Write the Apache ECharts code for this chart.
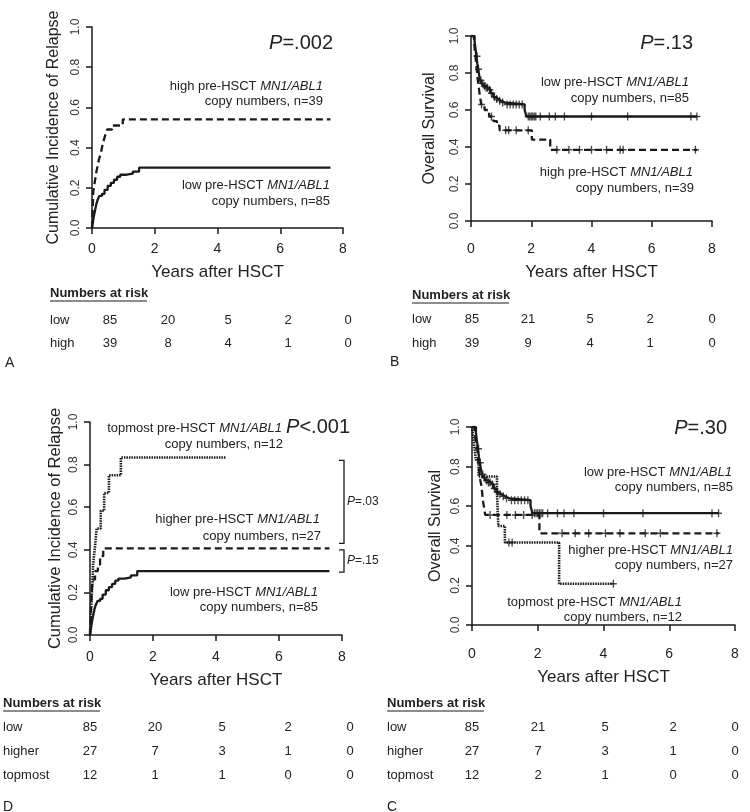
<!DOCTYPE html>
<html><head><meta charset="utf-8">
<script src="https://cdn.jsdelivr.net/npm/echarts@6/dist/echarts.min.js"></script>
<style>html,body{margin:0;padding:0;background:#fff}#c{width:750px;height:812px}</style>
</head><body><div id="c"></div>
<script>
// ---------------- DATA ----------------
const xTicks = [0, 2, 4, 6, 8];
// Cumulative incidence of relapse (step curves: [years, value])
const cirLow = [[0,0],[0.03,0.03],[0.06,0.06],[0.1,0.09],[0.14,0.12],[0.18,0.14],[0.24,0.16],[0.32,0.17],[0.4,0.19],[0.5,0.21],[0.6,0.225],[0.7,0.24],[0.8,0.255],[0.9,0.265],[1.1,0.27],[1.3,0.28],[1.5,0.3],[7.6,0.3]];
const cirHigh = [[0,0],[0.02,0.08],[0.04,0.18],[0.07,0.21],[0.1,0.24],[0.14,0.28],[0.18,0.31],[0.22,0.34],[0.28,0.37],[0.33,0.41],[0.38,0.44],[0.44,0.47],[0.48,0.49],[0.64,0.51],[0.98,0.54],[7.6,0.54]];
const cirHigher = [[0,0],[0.02,0.07],[0.04,0.15],[0.06,0.22],[0.08,0.26],[0.16,0.3],[0.25,0.33],[0.32,0.37],[0.42,0.407],[7.6,0.407]];
const cirTopmost = [[0,0],[0.02,0.083],[0.05,0.167],[0.08,0.25],[0.1,0.333],[0.16,0.417],[0.21,0.5],[0.34,0.583],[0.45,0.667],[0.6,0.75],[0.98,0.833],[4.3,0.833]];
// Overall survival
const osLow = [[0,1],[0.12,0.97],[0.15,0.93],[0.18,0.89],[0.21,0.85],[0.24,0.82],[0.27,0.79],[0.3,0.76],[0.36,0.745],[0.42,0.73],[0.5,0.72],[0.57,0.71],[0.65,0.69],[0.74,0.67],[0.82,0.66],[0.9,0.65],[1.0,0.64],[1.13,0.63],[1.78,0.6],[1.84,0.565],[7.5,0.565]];
const osHigh = [[0,1],[0.1,0.97],[0.13,0.92],[0.16,0.87],[0.19,0.82],[0.22,0.77],[0.26,0.72],[0.3,0.67],[0.34,0.63],[0.45,0.6],[0.6,0.565],[0.74,0.54],[0.86,0.515],[0.95,0.49],[2.02,0.44],[2.63,0.385],[7.5,0.385]];
const osHigher = [[0,1],[0.08,0.963],[0.12,0.926],[0.16,0.89],[0.2,0.815],[0.24,0.74],[0.29,0.7],[0.33,0.63],[0.37,0.59],[0.4,0.556],[2.05,0.463],[7.5,0.463]];
const osTopmost = [[0,1],[0.06,0.917],[0.12,0.833],[0.2,0.75],[0.76,0.667],[0.78,0.583],[0.8,0.5],[1.0,0.417],[2.65,0.208],[4.3,0.208]];
// Censoring times (years)
const osLowCensor = [0.2,0.25,0.33,0.38,0.45,0.5,0.55,0.62,0.68,0.78,0.85,0.95,1.05,1.2,1.3,1.4,1.5,1.6,1.7,1.9,1.95,2.0,2.05,2.1,2.15,2.3,2.6,2.8,3.1,4.0,5.2,7.3,7.5];
const osHighCensor = [0.35,0.68,1.15,1.25,1.5,1.9,2.85,3.25,3.6,4.0,4.5,4.95,5.05,7.45];
const osHigherCensor = [0.55,1.06,1.32,1.57,1.83,2.74,3.14,3.55,4.06,4.5,5.27,5.73,7.45];
const osTopmostCensor = [1.12,1.22,4.3];
// Numbers at risk
const riskA_low = [85,20,5,2,0];
const riskA_high = [39,8,4,1,0];
const riskB_low = [85,21,5,2,0];
const riskB_high = [39,9,4,1,0];
const riskD_low = [85,20,5,2,0];
const riskD_higher = [27,7,3,1,0];
const riskD_topmost = [12,1,1,0,0];
const riskC_low = [85,21,5,2,0];
const riskC_higher = [27,7,3,1,0];
const riskC_topmost = [12,2,1,0,0];

// ---------------- LAYOUT ----------------
const FONT = '"Liberation Sans", Arial, sans-serif';
const INK = '#1a1a1a';
const TXT = '#222';
const DASH = [7, 4];

function stepAt(curve, t) { let v = curve[0][1]; for (const p of curve) { if (p[0] <= t) v = p[1]; else break; } return v; }
function curve(i, data, type, width) {
  return { type: 'line', xAxisIndex: i, yAxisIndex: i, data, step: 'end', showSymbol: false, symbol: 'none',
    silent: true, animation: false, z: 3, lineStyle: { color: INK, width: width || 2.3, type: type || 'solid' } };
}
function censor(i, c, times) {
  return { type: 'scatter', xAxisIndex: i, yAxisIndex: i, data: times.map(t => [t, stepAt(c, t)]),
    symbol: 'path://M0,5L10,5M5,0L5,10', symbolSize: [7, 8], silent: true, animation: false, z: 4,
    itemStyle: { color: 'none', borderColor: INK, borderWidth: 1.4 } };
}
const axLine = { show: true, lineStyle: { color: INK, width: 1.5 } };
const axTick = { show: true, length: 6, lineStyle: { color: INK, width: 1.5 } };
function xAx(i, offset) {
  return { gridIndex: i, type: 'value', min: 0, max: 8, interval: 2, offset,
    axisLine: axLine, axisTick: axTick, splitLine: { show: false },
    axisLabel: { fontSize: 14, color: TXT, margin: 13, fontFamily: FONT, formatter: v => String(xTicks[xTicks.indexOf(v)]) },
    name: 'Years after HSCT', nameLocation: 'middle', nameGap: 35,
    nameTextStyle: { fontSize: 17, color: TXT, fontFamily: FONT } };
}
function yAx(i, name, gap, fs) {
  return { gridIndex: i, type: 'value', min: 0, max: 1, interval: 0.2,
    axisLine: axLine, axisTick: axTick, splitLine: { show: false },
    axisLabel: { rotate: 90, fontSize: 12, color: '#333', margin: 10, fontFamily: FONT, formatter: v => v.toFixed(1) },
    name, nameLocation: 'middle', nameGap: gap, nameTextStyle: { fontSize: fs, color: TXT, fontFamily: FONT } };
}

const chart = echarts.init(document.getElementById('c'), null, { renderer: 'canvas' });
chart.setOption({
  backgroundColor: '#fff',
  animation: false,
  grid: [
    { left: 92, top: 27, width: 251, height: 201 },
    { left: 471, top: 36, width: 241, height: 185 },
    { left: 90, top: 422, width: 252, height: 213 },
    { left: 472, top: 427, width: 263, height: 198 }
  ],
  xAxis: [xAx(0, 1), xAx(1, 8), xAx(2, 2), xAx(3, 9)],
  yAxis: [
    yAx(0, 'Cumulative Incidence of Relapse', 30, 16),
    yAx(1, 'Overall Survival', 33, 16),
    yAx(2, 'Cumulative Incidence of Relapse', 26, 16.5),
    yAx(3, 'Overall Survival', 28, 16)
  ],
  series: [
    curve(0, cirLow), curve(0, cirHigh, DASH),
    curve(1, osLow), curve(1, osHigh, DASH),
    censor(1, osLow, osLowCensor), censor(1, osHigh, osHighCensor),
    curve(2, cirLow), curve(2, cirHigher, DASH), curve(2, cirTopmost, [1.5, 1], 2.6),
    curve(3, osLow), curve(3, osHigher, DASH), curve(3, osTopmost, [1.5, 1], 2.6),
    censor(3, osLow, osLowCensor), censor(3, osHigher, osHigherCensor), censor(3, osTopmost, osTopmostCensor)
  ]
});

// ---------------- TEXT / ANNOTATIONS ----------------
function txt(x, y, text, o) {
  o = o || {};
  const fs = o.fontSize || 13;
  return { type: 'text', x, y, silent: true, z: 10,
    style: { text, fill: o.fill || TXT, fontSize: fs, fontFamily: FONT, fontWeight: o.fontWeight || 'normal',
      align: o.align || 'left', verticalAlign: 'middle',
      rich: { i: { fontStyle: 'italic', fontSize: fs, fontFamily: FONT, fill: o.fill || TXT } } } };
}
function line(pts, w) { return { type: 'polyline', silent: true, z: 10, shape: { points: pts }, style: { stroke: INK, lineWidth: w || 1.3, fill: null } }; }

const g = [];
// Panel A
g.push(txt(333, 43, '{i|P}=.002', { fontSize: 20, align: 'right' }));
g.push(txt(323, 86, 'high pre-HSCT {i|MN1/ABL1}', { align: 'right' }));
g.push(txt(323, 101, 'copy numbers, n=39', { align: 'right' }));
g.push(txt(330, 185, 'low pre-HSCT {i|MN1/ABL1}', { align: 'right' }));
g.push(txt(330, 201, 'copy numbers, n=85', { align: 'right' }));
// Panel B
g.push(txt(693, 43, '{i|P}=.13', { fontSize: 20, align: 'right' }));
g.push(txt(689, 82, 'low pre-HSCT {i|MN1/ABL1}', { align: 'right' }));
g.push(txt(689, 98, 'copy numbers, n=85', { align: 'right' }));
g.push(txt(693, 172, 'high pre-HSCT {i|MN1/ABL1}', { align: 'right' }));
g.push(txt(694, 188, 'copy numbers, n=39', { align: 'right' }));
// Panel D
g.push(txt(350, 427, '{i|P}<.001', { fontSize: 20, align: 'right' }));
g.push(txt(282, 428, 'topmost pre-HSCT {i|MN1/ABL1}', { align: 'right' }));
g.push(txt(283, 444, 'copy numbers, n=12', { align: 'right' }));
g.push(txt(320, 519, 'higher pre-HSCT {i|MN1/ABL1}', { align: 'right' }));
g.push(txt(321, 536, 'copy numbers, n=27', { align: 'right' }));
g.push(txt(318, 592, 'low pre-HSCT {i|MN1/ABL1}', { align: 'right' }));
g.push(txt(318, 607, 'copy numbers, n=85', { align: 'right' }));
// brackets in D
const bx = 344;
const p1 = chart.convertToPixel({ xAxisIndex: 2, yAxisIndex: 2 }, [0, 0.82])[1];
const p2 = chart.convertToPixel({ xAxisIndex: 2, yAxisIndex: 2 }, [0, 0.43])[1];
const p3 = chart.convertToPixel({ xAxisIndex: 2, yAxisIndex: 2 }, [0, 0.4])[1];
const p4 = chart.convertToPixel({ xAxisIndex: 2, yAxisIndex: 2 }, [0, 0.295])[1];
g.push(line([[bx - 5, p1], [bx, p1], [bx, p2], [bx - 5, p2]]));
g.push(line([[bx - 5, p3], [bx, p3], [bx, p4], [bx - 5, p4]]));
g.push(txt(347, (p1 + p2) / 2, '{i|P}=.03', { fontSize: 12 }));
g.push(txt(347, (p3 + p4) / 2, '{i|P}=.15', { fontSize: 12 }));
// Panel C
g.push(txt(727, 428, '{i|P}=.30', { fontSize: 20, align: 'right' }));
g.push(txt(732, 472, 'low pre-HSCT {i|MN1/ABL1}', { align: 'right' }));
g.push(txt(733, 487, 'copy numbers, n=85', { align: 'right' }));
g.push(txt(733, 550, 'higher pre-HSCT {i|MN1/ABL1}', { align: 'right' }));
g.push(txt(733, 565, 'copy numbers, n=27', { align: 'right' }));
g.push(txt(682, 602, 'topmost pre-HSCT {i|MN1/ABL1}', { align: 'right' }));
g.push(txt(682, 617, 'copy numbers, n=12', { align: 'right' }));

// Risk tables
function riskTable(hx, hy, labelX, cols, rowYs, labels, rows) {
  g.push(txt(hx, hy, 'Numbers at risk', { fontWeight: 'bold' }));
  g.push(line([[hx, hy + 8], [hx + 97, hy + 8]], 1.2));
  rows.forEach((r, k) => {
    g.push(txt(labelX, rowYs[k], labels[k]));
    r.forEach((v, j) => g.push(txt(cols[j], rowYs[k], String(v), { align: 'center' })));
  });
}
riskTable(50, 293, 50, [110, 168, 228, 288, 348], [320, 343], ['low', 'high'], [riskA_low, riskA_high]);
riskTable(412, 295, 412, [472, 528, 590, 650, 712], [319, 343], ['low', 'high'], [riskB_low, riskB_high]);
riskTable(3, 703, 3, [90, 155, 222, 288, 350], [727, 751, 775], ['low', 'higher', 'topmost'], [riskD_low, riskD_higher, riskD_topmost]);
riskTable(387, 703, 387, [472, 538, 605, 673, 735], [727, 751, 775], ['low', 'higher', 'topmost'], [riskC_low, riskC_higher, riskC_topmost]);

// panel letters
g.push(txt(5, 363, 'A', { fontSize: 14 }));
g.push(txt(390, 362, 'B', { fontSize: 14 }));
g.push(txt(3, 807, 'D', { fontSize: 14 }));
g.push(txt(387, 807, 'C', { fontSize: 14 }));

chart.setOption({ graphic: g });
</script>
</body></html>
